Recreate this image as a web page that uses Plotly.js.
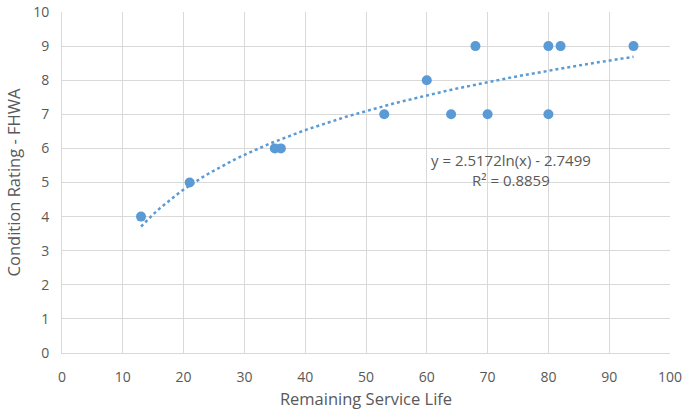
<!DOCTYPE html>
<html><head><meta charset="utf-8">
<script src="https://cdn.plot.ly/plotly-3.0.1.min.js"></script>
<style>html,body{margin:0;padding:0;background:#fff}#chart{width:688px;height:417px}</style>
</head><body><div id="chart"></div>
<script>
const remainingLife = [13, 21, 35, 36, 53, 60, 64, 68, 70, 80, 80, 82, 94];
const conditionRating = [4, 5, 6, 6, 7, 8, 7, 9, 7, 9, 7, 9, 9];
const trendA = 2.5172, trendB = -2.7499, r2 = 0.8859;
const xTicks = [0,10,20,30,40,50,60,70,80,90,100];
const yTicks = [0,1,2,3,4,5,6,7,8,9,10];

const xMin = Math.min(...remainingLife), xMax = Math.max(...remainingLife);
const tx = [], ty = [];
for (let i = 0; i <= 80; i++) {
  const x = xMin + (xMax - xMin) * i / 80;
  tx.push(x); ty.push(trendA * Math.log(x) + trendB);
}
const font = {family: '"Open Sans", "Liberation Sans", sans-serif', color: '#595959'};
const data = [
  {x: tx, y: ty, mode: 'lines', line: {color: '#5B9BD5', width: 2.5, dash: 'dot'}, hoverinfo: 'skip'},
  {x: remainingLife, y: conditionRating, mode: 'markers', marker: {color: '#5B9BD5', size: 10}}
];
const layout = {
  width: 688, height: 417, showlegend: false,
  margin: {l: 62, r: 18, t: 12, b: 64},
  paper_bgcolor: '#fff', plot_bgcolor: '#fff',
  font: Object.assign({size: 14}, font),
  xaxis: {range: [0, 100], tickvals: xTicks, showgrid: true, gridcolor: '#d9d9d9', gridwidth: 1,
    zeroline: false, showline: true, linecolor: '#d9d9d9', ticks: '', automargin: false,
    ticklabelstandoff: 11,
    tickfont: Object.assign({size: 14}, font),
    title: {text: 'Remaining Service Life', font: Object.assign({size: 16.5}, font), standoff: 8}},
  yaxis: {range: [0, 10], tickvals: yTicks, showgrid: true, gridcolor: '#d9d9d9', gridwidth: 1,
    zeroline: false, showline: true, linecolor: '#d9d9d9', ticks: '', automargin: false,
    ticklabelstandoff: 9,
    tickfont: Object.assign({size: 14}, font),
    title: {text: 'Condition Rating - FHWA', font: Object.assign({size: 16.5}, font), standoff: 8}},
  annotations: [{
    x: 73.8, y: 5.38, xref: 'x', yref: 'y', showarrow: false,
    text: 'y = ' + trendA + 'ln(x) - ' + Math.abs(trendB) + '<br>R² = ' + r2,
    align: 'center', font: Object.assign({size: 15}, font)
  }]
};
Plotly.newPlot('chart', data, layout, {displayModeBar: false, staticPlot: true});
</script></body></html>
